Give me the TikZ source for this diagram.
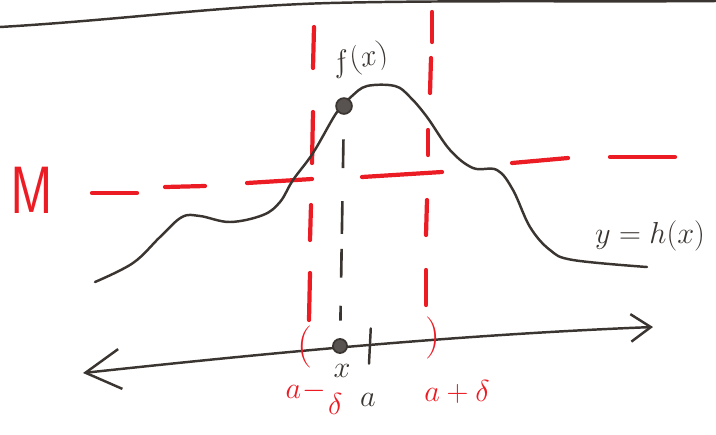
\documentclass[tikz,border=0pt]{standalone}
\usepackage{amsmath}
\usepackage{xcolor}
\usetikzlibrary{arrows.meta}
\definecolor{penink}{HTML}{3A3531}
\definecolor{redink}{HTML}{EC1C24}
\tikzset{
    curve/.style={draw=penink, line width=1.4pt, line cap=round, line join=round},
    redln/.style={draw=redink, line width=2.4pt, line cap=round},
    blkdash/.style={draw=penink, line width=1.5pt},
    dot/.style={circle, draw=penink, fill=penink!85, line width=1pt, inner sep=0pt, minimum size=9pt},
    lbl/.style={text=penink, inner sep=1pt, font=\fontsize{19}{22}\selectfont},
    rlbl/.style={text=redink, inner sep=1pt, font=\fontsize{19}{22}\selectfont}
}

\begin{document}
\begin{tikzpicture}[x=0.02cm, y=-0.02cm]
    \useasboundingbox (0,0) rectangle (716,434);
    % edge of the sheet
    \draw[curve] (0,27) .. controls (120,20) and (220,6) .. (330,3)
        .. controls (450,0) and (600,2) .. (716,1);

    % level M and the interval (a-delta, a+delta)
    \foreach \xa/\ya/\xb/\yb in {92/193/137/193, 165/187/205/186, 247/183/312/179,
        362/177/442/172, 512/163/568/158, 610/157/675/157}
        \draw[redln] (\xa,\ya) -- (\xb,\yb);
    \foreach \xa/\ya/\xb/\yb in {314/27/313/68, 313/112/312/163, 311/205/310/240,
        310/273/309/320}
        \draw[redln] (\xa,\ya) -- (\xb,\yb);
    \foreach \xa/\ya/\xb/\yb in {432/12/432/42, 431/58/430/93, 428/130/428/155,
        427/200/426/235, 426/270/426/305}
        \draw[redln] (\xa,\ya) -- (\xb,\yb);

    % the graph y = h(x)
    \draw[curve] plot[smooth, tension=0.6] coordinates {(95,282) (133,263) (160,237)
        (182,217) (200,216) (230,222) (263,215) (280,202) (293,180) (313,153)
        (335,115) (344,105) (352,96) (367,86) (395,86) (410,97) (427,117) (450,150)
        (473,168) (497,170) (513,190) (530,227) (550,250) (573,260) (647,267)};

    % real line
    \coordinate (axl) at (83,373);
    \coordinate (axr) at (653,327);
    \draw[curve, arrows={Straight Barb[length=7mm, width=8mm]-Straight Barb[length=4mm, width=5.5mm]}]
        (axl) .. controls (250,355) and (450,335) .. (axr);

    \node[dot] (fx) at (344,106) {};
    \node[dot, minimum size=8pt] (xpt) at (340,346) {};
    \draw[blkdash, shorten <=14pt, shorten >=10pt,
        dash pattern=on 16.4pt off 18.7pt on 18.7pt off 8.5pt on 16.4pt off 16pt on 8.5pt off 30pt]
        (fx) -- (xpt);

    \coordinate (atick) at (369,346);
    \draw[curve] ([yshift=-10pt]atick) -- ([yshift=10pt, xshift=1pt]atick);

    % labels
    \node[rlbl, font=\fontsize{38}{40}\sffamily, xscale=0.78] (mlbl) at (32,190) {M};
    \node[lbl, rotate=12] (fxlbl) at (360,60) {$f(x)$};
    \node[lbl] (hlbl) at (650,236) {$y=h(x)$};
    \node[lbl] (xlbl) at (342,371) {$x$};
    \node[lbl] (albl) at (368,400) {$a$};
    \node[rlbl] (lolbl) at (314,398) {$a\!-\!\raisebox{-9pt}{$\delta$}$};
    \node[rlbl] (hilbl) at (457,392) {$a+\delta$};
    \node[rlbl, font=\fontsize{24}{26}\selectfont] (lpar) at (305,347) {(};
    \node[rlbl, font=\fontsize{24}{26}\selectfont] (rpar) at (433,338) {)};
\end{tikzpicture}
\end{document}
